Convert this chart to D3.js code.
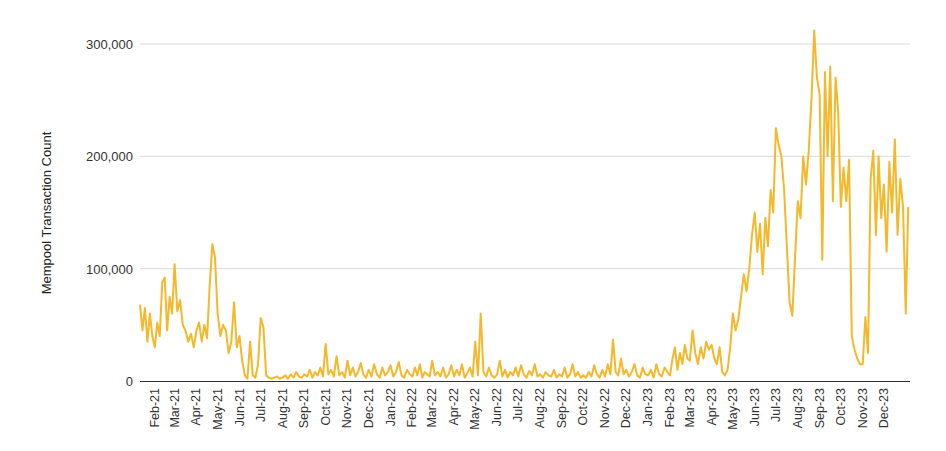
<!DOCTYPE html>
<html><head><meta charset="utf-8">
<script src="https://cdn.jsdelivr.net/npm/d3@7"></script>
<style>body{margin:0;background:#fff}text{font-family:"Liberation Sans",Arial,sans-serif}</style>
</head><body><svg id="c" width="946" height="451"></svg>
<script>
// month starts (first segment starts Jan 11 2021, last ends Jan 7 2024)
const monthStarts = ["2021-01-11","2021-02-01","2021-03-01","2021-04-01","2021-05-01","2021-06-01","2021-07-01","2021-08-01","2021-09-01","2021-10-01","2021-11-01","2021-12-01",
"2022-01-01","2022-02-01","2022-03-01","2022-04-01","2022-05-01","2022-06-01","2022-07-01","2022-08-01","2022-09-01","2022-10-01","2022-11-01","2022-12-01",
"2023-01-01","2023-02-01","2023-03-01","2023-04-01","2023-05-01","2023-06-01","2023-07-01","2023-08-01","2023-09-01","2023-10-01","2023-11-01","2023-12-01","2024-01-01","2024-01-08"];
// mempool transaction count, thousands, sampled within each month
const monthlyValues = [
[68,45,65,35,60,40],
[30,52,40,88,92,45,75,60],
[104,62,72,50,45,35,42,30],
[45,52,35,50,38,85,122,110],
[60,40,50,45,25,35,70,30],
[40,18,5,2,35,5,3,15],
[56,48,5,3,2,3,4,2],
[3,5,2,6,3,8,4,3],
[6,4,10,3,8,5,12,4],
[33,6,10,4,22,5,8,3],
[18,5,12,4,8,16,6,3],
[10,4,15,6,3,12,5,8],
[14,4,8,17,5,3,10,6],
[4,12,5,15,3,8,6,4],
[18,5,8,4,12,3,6,14],
[4,10,5,15,3,7,12,4],
[35,5,60,8,4,12,5,3],
[6,18,4,10,3,8,5,12],
[4,14,6,3,9,5,15,4],
[6,3,8,5,4,10,3,6],
[4,12,3,6,15,4,8,3],
[5,3,8,4,14,6,3,10],
[4,15,6,37,8,5,20,6],
[10,4,8,15,5,3,12,6],
[5,10,3,15,6,4,12,8],
[5,20,30,10,25,15,32,20],
[18,45,25,15,30,20,35,28],
[32,20,15,30,8,5,10,30],
[60,45,55,75,95,80,100,130],
[150,115,140,95,145,120,170,150],
[225,210,200,170,120,70,58,110],
[160,145,200,175,205,250,312,270],
[255,108,275,200,280,160,270,240],
[155,190,160,197,40,28,20,15],
[15,57,25,180,205,130,200,145],
[175,115,195,150,215,130,180,155],
[60,155]
];
const yTicks = [0,100000,200000,300000];
const xTickMonths = ["2021-02-01","2021-03-01","2021-04-01","2021-05-01","2021-06-01","2021-07-01","2021-08-01","2021-09-01","2021-10-01","2021-11-01","2021-12-01",
"2022-01-01","2022-02-01","2022-03-01","2022-04-01","2022-05-01","2022-06-01","2022-07-01","2022-08-01","2022-09-01","2022-10-01","2022-11-01","2022-12-01",
"2023-01-01","2023-02-01","2023-03-01","2023-04-01","2023-05-01","2023-06-01","2023-07-01","2023-08-01","2023-09-01","2023-10-01","2023-11-01","2023-12-01"];

const P = d3.timeParse("%Y-%m-%d");
const data = [];
monthlyValues.forEach((arr,m)=>{
  const a=P(monthStarts[m]).getTime(), b=P(monthStarts[m+1]).getTime();
  arr.forEach((v,i)=>data.push({d:new Date(a+(b-a)*i/arr.length), v:v*1000}));
});
const svg=d3.select("#c");
const x=d3.scaleTime().domain([P("2021-01-11"),P("2024-01-07")]).range([140,910]);
const y=d3.scaleLinear().domain([0,300000]).range([381,44]);
svg.append("g").selectAll("line").data(yTicks.slice(1)).join("line")
  .attr("x1",140).attr("x2",910).attr("y1",d=>y(d)).attr("y2",d=>y(d)).attr("stroke","#d9d9d9");
svg.append("g").selectAll("text").data(yTicks).join("text")
  .attr("x",133).attr("y",d=>y(d)+5).attr("text-anchor","end").attr("font-size",13).attr("fill","#333")
  .text(d=>d3.format(",")(d));
svg.append("text").attr("transform","translate(51,213) rotate(-90)").attr("text-anchor","middle")
  .attr("font-size",13).attr("fill","#222").text("Mempool Transaction Count");
svg.append("g").selectAll("text").data(xTickMonths).join("text")
  .attr("transform",d=>`translate(${x(P(d))+4},388) rotate(-90)`).attr("text-anchor","end")
  .attr("font-size",12.5).attr("fill","#333").text(d=>d3.timeFormat("%b-%y")(P(d)));
svg.append("path").datum(data).attr("fill","none").attr("stroke","#f4b82a").attr("stroke-width",2)
  .attr("stroke-linejoin","round").attr("d",d3.line().x(d=>x(d.d)).y(d=>y(d.v)));
svg.append("line").attr("x1",140).attr("x2",910).attr("y1",381.5).attr("y2",381.5).attr("stroke","#333");
</script></body></html>
